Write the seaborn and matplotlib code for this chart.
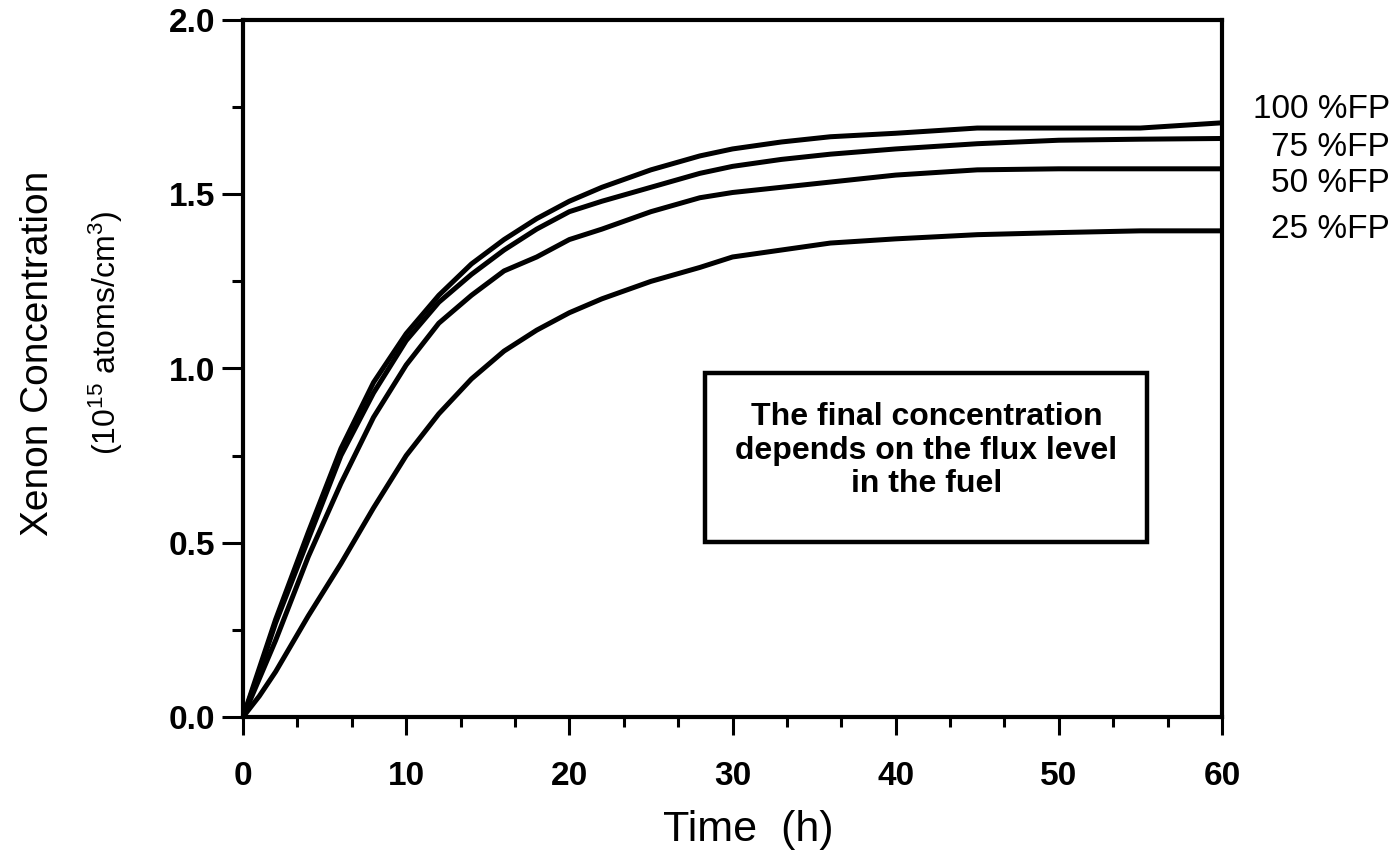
import numpy as np
import pandas as pd
import matplotlib
matplotlib.use("Agg")
import matplotlib.pyplot as plt
import seaborn as sns
from matplotlib.ticker import MultipleLocator, FormatStrFormatter
from matplotlib.patches import Rectangle

# ---- data ----
time_h = [0, 1, 2, 4, 6, 8, 10, 12, 14, 16, 18, 20, 22, 25, 28, 30, 33, 36, 40, 45, 50, 55, 60]
fp100 = [0, 0.14, 0.28, 0.53, 0.77, 0.96, 1.10, 1.21, 1.30, 1.37, 1.43, 1.48, 1.52, 1.57, 1.61, 1.63, 1.65, 1.665, 1.675, 1.69, 1.69, 1.69, 1.705]
fp75 = [0, 0.13, 0.27, 0.51, 0.75, 0.93, 1.08, 1.19, 1.27, 1.34, 1.40, 1.45, 1.48, 1.52, 1.56, 1.58, 1.60, 1.615, 1.63, 1.645, 1.655, 1.658, 1.66]
fp50 = [0, 0.11, 0.22, 0.46, 0.67, 0.86, 1.01, 1.13, 1.21, 1.28, 1.32, 1.37, 1.40, 1.45, 1.49, 1.505, 1.52, 1.535, 1.555, 1.57, 1.573, 1.573, 1.573]
fp25 = [0, 0.06, 0.13, 0.29, 0.44, 0.60, 0.75, 0.87, 0.97, 1.05, 1.11, 1.16, 1.20, 1.25, 1.29, 1.32, 1.34, 1.36, 1.372, 1.384, 1.39, 1.395, 1.395]
series_labels = ["100 %FP", "75 %FP", "50 %FP", "25 %FP"]
x_ticks = [0, 10, 20, 30, 40, 50, 60]
y_ticks = [0.0, 0.5, 1.0, 1.5, 2.0]

df = pd.DataFrame({
    "Time": time_h * 4,
    "Conc": fp100 + fp75 + fp50 + fp25,
    "Level": sum([[lab] * len(time_h) for lab in series_labels], []),
})

sns.set_theme(style="ticks")
plt.rcParams["font.family"] = ["Liberation Sans", "DejaVu Sans"]
plt.rcParams["mathtext.fontset"] = "custom"
plt.rcParams["mathtext.rm"] = "Liberation Sans"
plt.rcParams["mathtext.it"] = "Liberation Sans"
for k in ["text.color", "axes.labelcolor", "xtick.color", "ytick.color", "axes.edgecolor"]:
    plt.rcParams[k] = "black"

fig = plt.figure(figsize=(13.97, 8.55), dpi=100)
ax = fig.add_axes([243 / 1397, 1 - 717 / 855, (1222 - 243) / 1397, (717 - 20) / 855])

sns.lineplot(data=df, x="Time", y="Conc", hue="Level", palette=["black"] * 4,
             linewidth=3.6, legend=False, ax=ax)
for ln in ax.get_lines():
    ln.set_solid_joinstyle("round")
    ln.set_solid_capstyle("round")

ax.set_xlim(0, 60)
ax.set_ylim(0, 2.0)
ax.set_xticks(x_ticks)
ax.set_yticks(y_ticks)
ax.xaxis.set_minor_locator(MultipleLocator(10 / 3))
ax.yaxis.set_minor_locator(MultipleLocator(0.25))
ax.yaxis.set_major_formatter(FormatStrFormatter("%.1f"))
ax.set_xlabel("")
ax.set_ylabel("")

for sp in ax.spines.values():
    sp.set_linewidth(3)
    sp.set_color("black")

ax.tick_params(axis="x", which="major", direction="out", length=13, width=2.2, pad=19,
               labelsize=24, colors="black")
ax.tick_params(axis="x", which="minor", direction="out", length=7, width=2.2)
ax.tick_params(axis="y", which="major", direction="out", length=15, width=2.2, pad=5,
               labelsize=24, colors="black")
ax.tick_params(axis="y", which="minor", direction="out", length=8, width=2.2)
for lab in ax.get_xticklabels() + ax.get_yticklabels():
    lab.set_fontweight("bold")

# axis titles
fig.text(748 / 1397, 1 - 830 / 855, "Time  (h)", fontsize=31, ha="center", va="center")
fig.text(38 / 1397, 1 - 353 / 855, "Xenon Concentration", fontsize=28, rotation=90,
         ha="center", va="center")
fig.text(106 / 1397, 1 - 333 / 855, r"(10$^{15}$ atoms/cm$^{3}$)", fontsize=23, rotation=90,
         ha="center", va="center")

# right-side series labels
label_y = [110, 148, 184, 230]
for lab, yy in zip(series_labels, label_y):
    fig.text(1390 / 1397, 1 - yy / 855, lab, fontsize=24, ha="right", va="center")

# annotation box
ax.add_patch(Rectangle((0.472, 0.251), 0.923 - 0.472, 0.494 - 0.251, transform=ax.transAxes,
                       fill=False, edgecolor="black", linewidth=3.2, zorder=5))
ax.text(0.698, 0.382, "The final concentration\ndepends on the flux level\nin the fuel",
        transform=ax.transAxes, ha="center", va="center", fontsize=23, fontweight="bold",
        linespacing=1.15)

fig.savefig("out.png", dpi=100, facecolor="white")
